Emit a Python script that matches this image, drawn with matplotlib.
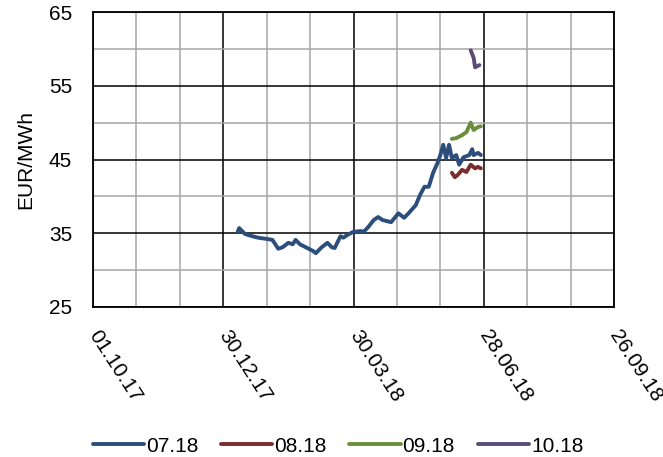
import matplotlib
matplotlib.use("Agg")
import matplotlib.pyplot as plt
import matplotlib.dates as mdates
import pandas as pd

plt.rcParams['font.family'] = ['Liberation Sans', 'DejaVu Sans']

# series values (date, EUR/MWh)
dates_0718 = ['2018-01-09', '2018-01-10', '2018-01-14', '2018-01-19', '2018-01-23', '2018-01-30',
              '2018-02-02', '2018-02-06', '2018-02-09', '2018-02-13', '2018-02-16', '2018-02-18',
              '2018-02-21', '2018-02-25', '2018-03-02', '2018-03-04', '2018-03-08', '2018-03-12',
              '2018-03-15', '2018-03-17', '2018-03-21', '2018-03-23', '2018-03-26', '2018-03-30',
              '2018-04-04', '2018-04-06', '2018-04-09', '2018-04-13', '2018-04-16', '2018-04-19',
              '2018-04-25', '2018-04-30', '2018-05-04', '2018-05-07', '2018-05-12', '2018-05-15',
              '2018-05-18', '2018-05-21', '2018-05-24', '2018-05-27', '2018-05-29', '2018-05-31',
              '2018-06-02', '2018-06-04', '2018-06-06', '2018-06-09', '2018-06-11', '2018-06-14',
              '2018-06-18', '2018-06-20', '2018-06-21', '2018-06-24', '2018-06-26']
vals_0718 = [35.2, 35.7, 34.9, 34.6, 34.4, 34.2,
             34.1, 32.9, 33.1, 33.7, 33.5, 34.1,
             33.5, 33.1, 32.6, 32.3, 33.1, 33.7,
             33.1, 33.0, 34.6, 34.4, 34.8, 35.2,
             35.3, 35.2, 35.8, 36.8, 37.2, 36.8,
             36.5, 37.7, 37.1, 37.7, 38.8, 40.2,
             41.3, 41.3, 43.2, 44.5, 45.6, 47.0,
             45.2, 47.0, 45.2, 45.6, 44.3, 45.3,
             45.6, 46.4, 45.6, 45.9, 45.6]

dates_0818 = ['2018-06-06', '2018-06-08', '2018-06-10', '2018-06-13', '2018-06-16',
              '2018-06-19', '2018-06-22', '2018-06-24', '2018-06-26']
vals_0818 = [43.2, 42.6, 42.9, 43.6, 43.3, 44.3, 43.8, 44.0, 43.8]

dates_0918 = ['2018-06-06', '2018-06-09', '2018-06-13', '2018-06-16', '2018-06-19',
              '2018-06-21', '2018-06-24', '2018-06-26']
vals_0918 = [47.8, 47.9, 48.3, 48.7, 50.0, 49.0, 49.4, 49.5]

dates_1018 = ['2018-06-19', '2018-06-21', '2018-06-22', '2018-06-25']
vals_1018 = [59.8, 58.8, 57.5, 57.8]

labels = ['07.18', '08.18', '09.18', '10.18']
colors = ['#2C4E7C', '#7B2C2C', '#6B8E3A', '#5C4A7A']

fig = plt.figure(figsize=(6.63, 4.57), dpi=100)
ax = fig.add_axes([93 / 663, 1 - 307 / 457, (614 - 93) / 663, (307 - 12) / 457])

series = [(dates_0718, vals_0718), (dates_0818, vals_0818),
          (dates_0918, vals_0918), (dates_1018, vals_1018)]
for (d, v), lab, c in zip(series, labels, colors):
    ax.plot(pd.to_datetime(d), v, color=c, lw=2.8, label=lab, solid_capstyle='round')

start = pd.Timestamp('2017-10-01')
major = [start + pd.Timedelta(days=90 * i) for i in range(5)]
minor = [start + pd.Timedelta(days=30 * i) for i in range(13)]
ax.set_xlim(major[0], major[-1])
ax.set_xticks(major)
ax.set_xticks(minor, minor=True)
ax.xaxis.set_major_formatter(mdates.DateFormatter('%d.%m.%y'))

ax.set_ylim(25, 65)
ax.set_yticks([25, 35, 45, 55, 65])
ax.set_yticks([30, 40, 50, 60], minor=True)

ax.grid(which='minor', color='#A6A6A6', lw=1.1)
ax.grid(which='major', color='black', lw=1.1)
ax.set_axisbelow(True)
for s in ax.spines.values():
    s.set_linewidth(1.3)
    s.set_color('black')

fs = 15
ax.tick_params(which='both', length=0)
ax.tick_params(axis='y', labelsize=fs, pad=15)
ax.tick_params(axis='x', labelsize=fs, pad=18)
for t in ax.get_xticklabels():
    t.set_rotation(-57)
    t.set_rotation_mode('anchor')
    t.set_ha('left')
    t.set_va('center')

ax.set_ylabel('EUR/MWh', fontsize=fs, labelpad=10)

ax.legend(loc='center', bbox_to_anchor=(338 / 663, 1 - 446 / 457), bbox_transform=fig.transFigure,
          ncol=4, frameon=False, fontsize=fs, handlelength=2.45, columnspacing=1.1,
          handletextpad=0.1, borderpad=0)

fig.savefig('out.png', dpi=100)
